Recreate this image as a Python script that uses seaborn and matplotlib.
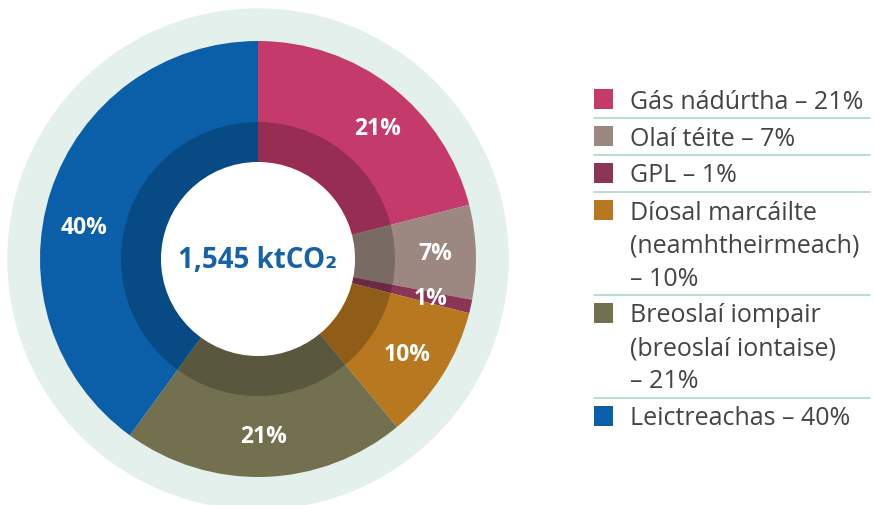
import matplotlib
matplotlib.use("Agg")
import numpy as np
from matplotlib import pyplot as plt
from matplotlib import font_manager
from matplotlib.patches import Circle, Rectangle, Wedge
import seaborn as sns

# data
categories = ["Gás nádúrtha", "Olaí téite", "GPL",
              "Díosal marcáilte\n(neamhtheirmeach)",
              "Breoslaí iompair\n(breoslaí iontaise)",
              "Leictreachas"]
shares = [21, 7, 1, 10, 21, 40]
colors = ["#C43A6B", "#9C8880", "#8A3556", "#B87820", "#737050", "#0B5FA8"]
total_label = "1,545 ktCO₂"

W, H = 874, 506
sns.set_theme(style="white")
plt.rcParams["font.family"] = ["Open Sans", "DejaVu Sans"]

# narrow bold face for the slice labels, if one is installed
label_font = dict(family=["Open Sans"], weight="bold")
for f in font_manager.fontManager.ttflist:
    if f.name == "Liberation Sans Narrow" and f.weight in (700, "bold"):
        label_font = dict(fname=f.fname)
        break

fig = plt.figure(figsize=(W / 100, H / 100), dpi=100)
ax = fig.add_axes([0, 0, 1, 1])

cx, cy = 258, H - 260
ax.add_patch(Circle((cx, cy), 250, color="#E3F0EC", zorder=0))

wedges, _, autotexts = ax.pie(
    shares, colors=colors, startangle=90, counterclock=False,
    center=(cx, cy), radius=218, autopct=lambda p: f"{p:.0f}%",
    pctdistance=177 / 218, wedgeprops=dict(linewidth=0),
    textprops=dict(color="white", fontsize=16.5))
for w in wedges:
    w.set_zorder(1)

# small hand nudges of the label angles, as in the original artwork
nudge = [-4.5, 0, 0, 0, 0, 7.5]
for w, t, d in zip(wedges, autotexts, nudge):
    ang = np.deg2rad((w.theta1 + w.theta2) / 2 + d)
    t.set_position((cx + 177 * np.cos(ang), cy + 177 * np.sin(ang)))
    t.set_fontproperties(font_manager.FontProperties(size=16.5, **label_font))
    t.set_zorder(5)

# darker inner band and white hole
ax.add_patch(Wedge((cx, cy), 137, 0, 360, width=40, color="black", alpha=0.22, zorder=2, lw=0))
ax.add_patch(Circle((cx, cy), 97, color="white", zorder=3, lw=0))
ax.text(cx, cy, total_label, ha="center", va="center", fontsize=20,
        fontweight="bold", color="#1662A8", zorder=6)

# legend
y = 100
pitch = 33
for i, (name, v, c) in enumerate(zip(categories, shares, colors)):
    lines = name.split("\n")
    if len(lines) > 1:
        lines = lines + [f"– {v}%"]
    else:
        lines = [f"{name} – {v}%"]
    ax.add_patch(Rectangle((594, H - y - 10), 19, 20, color=c, lw=0))
    for k, ln in enumerate(lines):
        ax.text(630, H - (y + k * pitch) - 2, ln, ha="left", va="center",
                fontsize=18, color="#444444")
    last = y + (len(lines) - 1) * pitch
    if i < len(categories) - 1:
        sep = last + 19
        ax.plot([594, 870], [H - sep, H - sep], color="#A8D9C8", lw=1.2)
        y = sep + 18

ax.set_xlim(0, W)
ax.set_ylim(0, H)
ax.set_aspect("equal")
ax.axis("off")

fig.savefig("out.png", dpi=100)
plt.close(fig)
